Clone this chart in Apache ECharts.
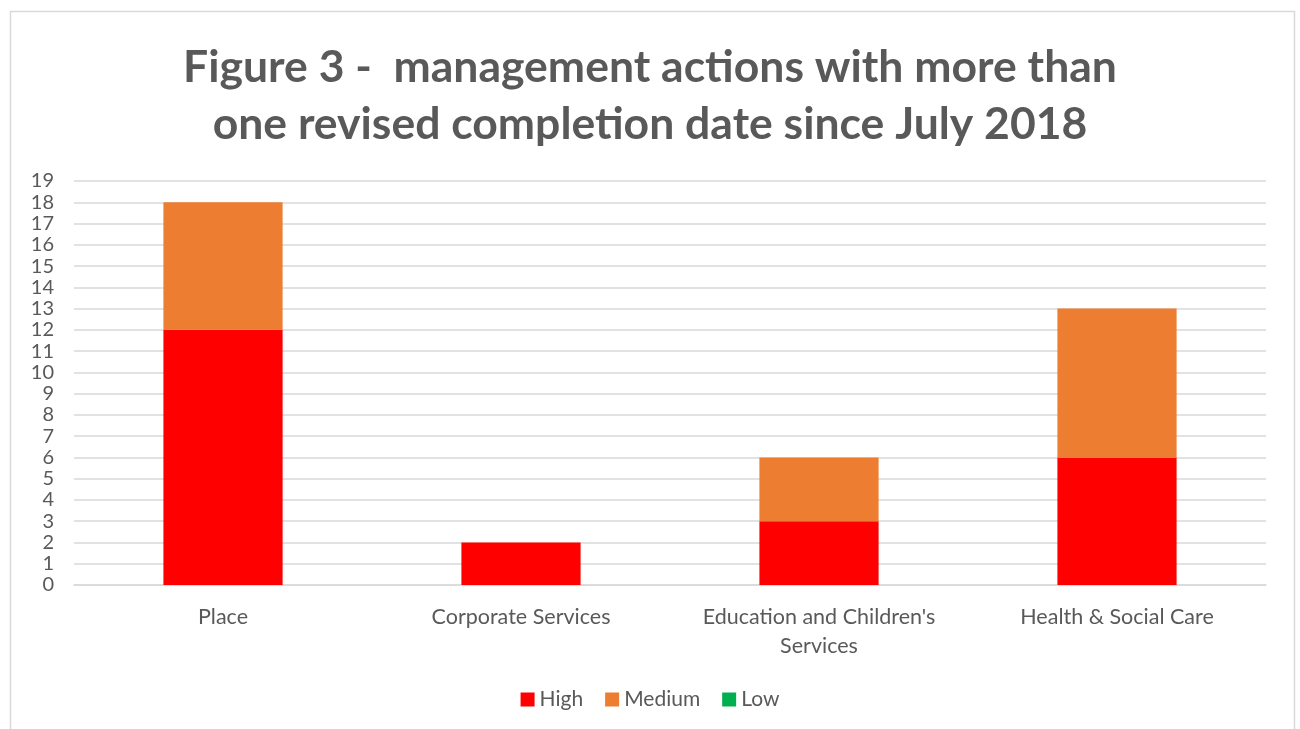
<!DOCTYPE html>
<html>
<head>
<meta charset="utf-8">
<script src="https://cdn.jsdelivr.net/npm/echarts@6/dist/echarts.min.js"></script>
<style>
  html, body { margin: 0; padding: 0; background: #fff; }
  #main { width: 1300px; height: 729px; }
</style>
</head>
<body>
<div id="main"></div>
<script>
var categories = ['Place', 'Corporate Services', "Education and Children's\nServices", 'Health & Social Care'];
var high = [12, 2, 3, 6];
var medium = [6, 0, 3, 7];
var low = [0, 0, 0, 0];

var chart = echarts.init(document.getElementById('main'));
var font = 'Lato, "Open Sans", sans-serif';

var option = {
  backgroundColor: '#ffffff',
  color: ['#ff0000', '#ed7d31', '#00b050'],
  textStyle: { fontFamily: font },
  graphic: [{
    type: 'rect',
    shape: { x: 10.5, y: 11.5, width: 1284, height: 740 },
    style: { fill: 'none', stroke: '#d9d9d9', lineWidth: 1.5 },
    silent: true
  }],
  title: {
    text: 'Figure 3 -  management actions with more than\none revised completion date since July 2018',
    left: 'center',
    top: 34,
    textStyle: {
      fontFamily: font,
      fontSize: 44.5,
      fontWeight: 'bold',
      color: '#595959',
      lineHeight: 57
    }
  },
  legend: {
    data: ['High', 'Medium', 'Low'],
    bottom: 14,
    left: 'center',
    itemWidth: 14,
    itemHeight: 14,
    itemGap: 22,
    icon: 'rect',
    textStyle: { fontSize: 21, color: '#595959', fontFamily: font }
  },
  grid: {
    left: 74,
    right: 34,
    top: 181,
    bottom: 144
  },
  xAxis: {
    type: 'category',
    data: categories,
    axisTick: { show: false },
    axisLine: { lineStyle: { color: '#d9d9d9', width: 1.5 } },
    axisLabel: {
      interval: 0,
      hideOverlap: false,
      fontSize: 21.5,
      color: '#595959',
      margin: 18,
      lineHeight: 29,
      fontFamily: font
    }
  },
  yAxis: {
    type: 'value',
    min: 0,
    max: 19,
    interval: 1,
    axisLine: { show: false },
    axisTick: { show: false },
    axisLabel: { fontSize: 20, color: '#595959', margin: 20, fontFamily: font },
    splitLine: { lineStyle: { color: '#d9d9d9', width: 1.5 } }
  },
  series: [
    { name: 'High', type: 'bar', stack: 'total', barWidth: '40%', data: high },
    { name: 'Medium', type: 'bar', stack: 'total', data: medium },
    { name: 'Low', type: 'bar', stack: 'total', data: low }
  ]
};

chart.setOption(option);
</script>
</body>
</html>
